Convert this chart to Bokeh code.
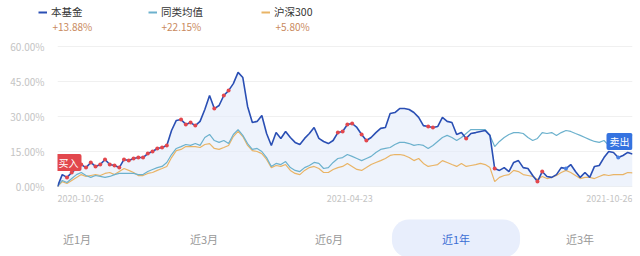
from bokeh.plotting import figure
from bokeh.layouts import column
from bokeh.models import (Range1d, FixedTicker, PrintfTickFormatter, Label,
                          Legend, LegendItem, ColumnDataSource)
from bokeh.embed import file_html
from bokeh.resources import INLINE

# ---------------- data ----------------
days = list(range(0, 243, 2))  # trading-day index, 2020-10-26 .. 2021-10-26

fund = [0.0, 5.1, 3.9, 6.0, 7.7, 9.4, 8.1, 10.3, 8.6, 9.4,
        11.6, 9.4, 9.0, 8.1, 11.6, 11.1, 12.0, 12.4, 12.4, 14.1,
        15.0, 16.3, 16.7, 17.6, 24.0, 28.3, 28.7, 26.6, 27.4, 26.1,
        27.9, 33.0, 39.0, 33.4, 34.7, 39.0, 41.1, 44.1, 48.9, 46.7,
        34.3, 27.4, 27.9, 30.4, 22.7, 17.6, 23.1, 20.6, 23.6, 21.0,
        18.9, 18.0, 20.6, 22.7, 25.3, 20.6, 19.3, 18.4, 19.7, 23.1,
        23.6, 26.6, 27.0, 25.3, 22.3, 19.7, 21.0, 23.1, 24.9, 25.3,
        31.3, 31.7, 33.4, 33.4, 33.0, 31.7, 29.6, 26.1, 25.7, 25.3,
        25.7, 29.6, 27.9, 27.4, 22.3, 23.1, 20.6, 22.7, 23.1, 23.6,
        24.0, 21.9, 7.7, 6.9, 8.1, 6.4, 10.3, 11.1, 8.1, 7.7,
        4.7, 2.1, 6.4, 4.3, 3.9, 5.1, 8.1, 7.7, 9.4, 6.4,
        3.9, 6.0, 3.9, 8.6, 9.0, 12.4, 15.0, 14.6, 12.4, 13.3,
        14.6, 13.88]

peer = [0.0, 2.6, 1.7, 3.4, 5.1, 6.0, 4.7, 3.9, 4.7, 4.3,
        3.9, 4.3, 5.1, 5.6, 5.6, 5.6, 5.6, 5.1, 5.1, 6.4,
        7.3, 8.1, 8.6, 10.3, 13.7, 16.3, 17.1, 18.0, 17.6, 18.4,
        17.6, 21.0, 22.3, 19.7, 18.9, 19.7, 18.4, 22.3, 24.4, 21.9,
        18.4, 15.9, 16.3, 15.0, 12.4, 8.6, 9.9, 9.4, 10.7, 8.1,
        6.9, 6.4, 8.1, 9.0, 10.3, 9.9, 7.7, 8.1, 10.3, 12.0,
        12.4, 13.7, 12.9, 12.0, 11.1, 12.0, 12.9, 14.6, 15.9, 16.3,
        16.7, 18.0, 18.9, 18.9, 18.4, 17.6, 18.0, 17.6, 16.3, 17.6,
        19.3, 21.0, 21.9, 21.0, 19.7, 21.0, 22.7, 24.4, 24.4, 24.4,
        24.4, 21.9, 17.1, 19.3, 21.0, 22.3, 23.1, 23.1, 22.7, 21.0,
        19.7, 20.6, 23.1, 22.7, 23.1, 21.9, 23.1, 24.0, 23.6, 22.7,
        21.9, 21.0, 20.1, 19.3, 18.9, 19.7, 17.6, 18.9, 20.1, 21.0,
        21.9, 22.15]

hs300 = [0.0, 2.1, 1.3, 2.6, 3.9, 5.1, 4.3, 4.7, 5.1, 4.7,
         5.6, 6.0, 5.1, 6.4, 7.7, 6.9, 6.0, 4.7, 4.7, 5.6,
         6.0, 6.9, 7.7, 8.6, 12.4, 15.4, 15.9, 17.1, 17.1, 17.1,
         16.7, 18.0, 18.4, 16.3, 15.9, 16.7, 17.6, 21.4, 23.6, 21.4,
         17.6, 15.4, 15.0, 14.1, 11.6, 8.1, 9.0, 8.6, 9.4, 6.9,
         5.6, 5.1, 6.9, 8.1, 8.6, 7.7, 6.0, 6.0, 7.3, 8.1,
         8.6, 9.9, 8.6, 7.3, 6.9, 8.1, 9.4, 10.3, 11.1, 12.0,
         13.3, 13.7, 13.7, 13.3, 12.4, 11.1, 12.0, 9.9, 8.6, 9.0,
         9.4, 11.1, 10.3, 9.4, 8.6, 9.9, 8.6, 9.0, 9.4, 9.9,
         9.4, 8.1, 2.1, 3.9, 4.7, 5.1, 6.9, 6.4, 5.1, 4.7,
         4.3, 3.0, 4.3, 3.4, 3.9, 4.7, 6.0, 6.9, 6.0, 4.7,
         3.4, 3.9, 3.9, 3.4, 4.3, 5.1, 4.7, 5.1, 5.1, 5.1,
         6.0, 5.8]

buy_days = [4, 6, 8, 10, 12, 14, 16, 18, 20, 22, 24, 26, 28, 30, 32, 34, 36,
            38, 40, 42, 44, 46, 52, 54, 56, 58, 66, 70, 72, 118, 120, 122,
            124, 128, 130, 156, 158, 172, 184, 202, 204]
sell_days = [214, 236]

series_names = ["本基金", "同类均值", "沪深300"]
series_returns = ["+13.88%", "+22.15%", "+5.80%"]
y_ticks = [0, 15, 30, 45, 60]
date_ticks = [0, 123, 242]
date_labels = ["2020-10-26", "2021-04-23", "2021-10-26"]
periods = ["近1月", "近3月", "近6月", "近1年", "近3年"]
active_period = "近1年"

# ---------------- styling ----------------
FONT = "Noto Sans CJK SC"
C_FUND = "#2a4fb4"
C_PEER = "#6cb1cd"
C_HS = "#e9b466"
C_DOT = "#e2474d"
colors = [C_FUND, C_PEER, C_HS]


def bare(fig):
    fig.xaxis.visible = False
    fig.yaxis.visible = False
    fig.xgrid.visible = False
    fig.ygrid.visible = False
    return fig


# ---- top: legend ----
top = bare(figure(width=640, height=36, output_backend="svg", toolbar_location=None,
                  x_range=Range1d(0, 1), y_range=Range1d(0, 1),
                  min_border=0, outline_line_color=None))
top.frame_align = False
leg_x = [38, 148, 261]
pct_x = [52, 161, 275]
for name, ret, c, lx, px in zip(series_names, series_returns, colors, leg_x, pct_x):
    # swatch renderer kept outside the visible range; only its legend glyph shows
    r = top.line(x=[-5, -4], y=[-5, -5], line_color=c, line_width=2)
    lg = Legend(items=[LegendItem(label=name, renderers=[r])], location=(lx, 17),
                orientation="horizontal", border_line_color=None,
                background_fill_alpha=0, glyph_width=9, glyph_height=12,
                label_height=12, label_width=10, label_standoff=4, padding=0,
                spacing=0, margin=0, label_text_font=FONT,
                label_text_font_size="10.5px", label_text_color="#333333")
    top.add_layout(lg)
    top.add_layout(Label(x=px, y=10.5, x_units="screen", y_units="screen", text=ret,
                         text_align="left", text_baseline="middle",
                         text_color="#c98a60", text_font=FONT,
                         text_font_size="10px"))

# ---- main chart ----
xr = Range1d(0, 242)
p = figure(width=640, height=157, output_backend="svg", toolbar_location=None,
           x_range=xr, y_range=Range1d(-0.43, 62.57),
           min_border_left=57, min_border_right=8, min_border_top=4,
           min_border_bottom=6, outline_line_color=None,
           background_fill_color="white", border_fill_color="white")

p.xaxis.visible = False
p.xgrid.visible = False
p.yaxis.ticker = FixedTicker(ticks=y_ticks)
p.ygrid.ticker = FixedTicker(ticks=y_ticks)
p.yaxis.formatter = PrintfTickFormatter(format="%.2f%%")
p.yaxis.axis_line_color = None
p.yaxis.major_tick_line_color = None
p.yaxis.minor_tick_line_color = None
p.yaxis.major_label_standoff = 7
p.yaxis.major_label_text_font_size = "10px"
p.yaxis.major_label_text_color = "#c4c4c4"
p.yaxis.major_label_text_font = FONT
p.ygrid.grid_line_color = "#f0f0f0"

src = ColumnDataSource(dict(x=days, fund=fund, peer=peer, hs=hs300))

p.varea(x="x", y1=0, y2="fund", source=src, fill_color="#e3ebfa", fill_alpha=0.6)
p.line("x", "hs", source=src, line_color=C_HS, line_width=1.2)
p.line("x", "peer", source=src, line_color=C_PEER, line_width=1.2)
p.line("x", "fund", source=src, line_color=C_FUND, line_width=1.6)

lookup = dict(zip(days, fund))
p.scatter(x=buy_days, y=[lookup[d] for d in buy_days], size=4,
          fill_color=C_DOT, line_color=None)
p.scatter(x=sell_days, y=[lookup[d] for d in sell_days], size=4,
          fill_color="#4a7fe0", line_color=None)

p.add_layout(Label(x=0, y=10.3, x_offset=-2, text="买入", text_align="left",
                   text_baseline="middle", text_color="white", text_font=FONT,
                   text_font_size="10px", background_fill_color="#e2474d",
                   padding=dict(left=3, right=3, top=1, bottom=1), border_radius=2))
p.add_layout(Label(x=242, y=19.3, text="卖出", text_align="right",
                   text_baseline="middle", text_color="white", text_font=FONT,
                   text_font_size="10px", background_fill_color="#3573e0",
                   padding=dict(left=3, right=3, top=1, bottom=1), border_radius=2))

# ---- bottom: dates and period buttons ----
bot = bare(figure(width=640, height=63, output_backend="svg", toolbar_location=None,
                  x_range=xr, y_range=Range1d(0, 1),
                  min_border_left=57, min_border_right=8, min_border_top=0,
                  min_border_bottom=0, outline_line_color=None))
bot.frame_align = False
aligns = ["left", "center", "right"]
for d, t, a in zip(date_ticks, date_labels, aligns):
    bot.add_layout(Label(x=d, y=58, y_units="screen", text=t, text_align=a,
                         text_baseline="middle", text_color="#c4c4c4",
                         text_font=FONT, text_font_size="9px"))

btn_x = [19.5, 146.5, 271.5, 398.5, 522.5]
for t, bx in zip(periods, btn_x):
    active = t == active_period
    kw = {}
    if active:
        kw = dict(background_fill_color="#e8eefc",
                  padding=dict(left=50, right=50, top=11, bottom=11),
                  border_radius=17)
    bot.add_layout(Label(x=bx, y=18, x_units="screen", y_units="screen", text=t,
                         text_align="center", text_baseline="middle",
                         text_color="#3b6dd4" if active else "#999999",
                         text_font=FONT, text_font_size="11px", **kw))

layout = column(top, p, bot, spacing=0)
open("out.html", "w").write(file_html(layout, INLINE))
